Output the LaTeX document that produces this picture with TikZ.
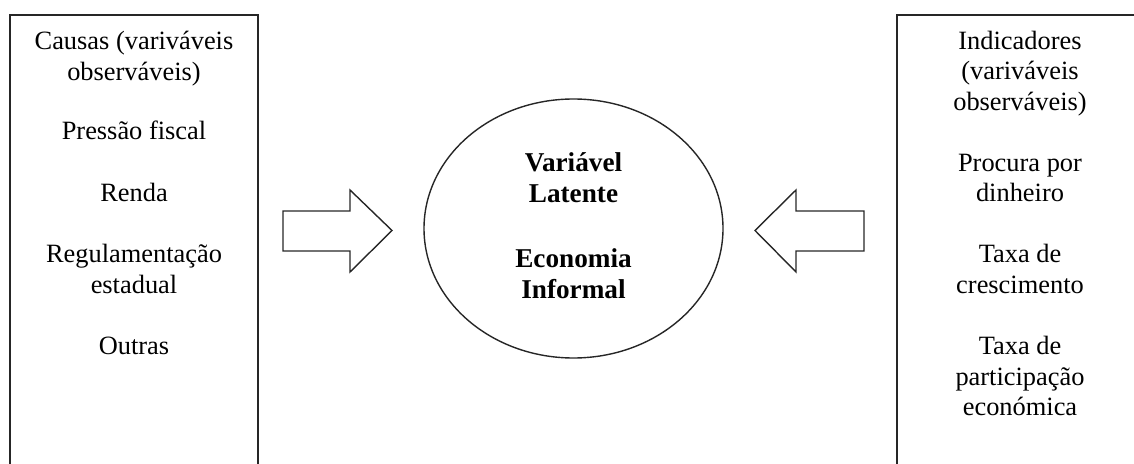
\documentclass[tikz,border=0pt]{standalone}
\usepackage{fontspec}
\setmainfont{Liberation Serif}
\usetikzlibrary{shapes.geometric}
\begin{document}
\begin{tikzpicture}[x=0.5pt,y=-0.5pt,
  txt/.style={anchor=base,inner sep=0pt,font=\fontsize{13.2}{15.3}\selectfont},
  btxt/.style={txt,font=\fontsize{13.6}{15.6}\selectfont\bfseries},
  boxline/.style={draw=black!85,line width=0.9pt},
  shapeline/.style={draw=black!85,line width=0.7pt}]
\useasboundingbox (0,0) rectangle (1134,464);
\clip (0,0) rectangle (1134,464);
% boxes
\draw[boxline] (10,15) rectangle (258,520);
\draw[boxline] (897,15) rectangle (1143,520);
% left texts
\node[txt] (l1) at (134,49.5) {Causas (variváveis};
\node[txt] (l2) at (134,80.5) {observáveis)};
\node[txt] (l3) at (134,140) {Pressão fiscal};
\node[txt] (l4) at (134,202) {Renda};
\node[txt] (l5) at (134,263) {Regulamentação};
\node[txt] (l6) at (134,293.5) {estadual};
\node[txt] (l7) at (134,355) {Outras};
% right texts
\node[txt] (r1) at (1020,49.5) {Indicadores};
\node[txt] (r2) at (1020,80) {(variváveis};
\node[txt] (r3) at (1020,110.5) {observáveis)};
\node[txt] (r4) at (1020,171.5) {Procura por};
\node[txt] (r5) at (1020,202) {dinheiro};
\node[txt] (r6) at (1020,263) {Taxa de};
\node[txt] (r7) at (1020,293.5) {crescimento};
\node[txt] (r8) at (1020,355) {Taxa de};
\node[txt] (r9) at (1020,385.5) {participação};
\node[txt] (r10) at (1020,415.5) {económica};
% ellipse
\node[ellipse,shapeline,minimum width=149.5pt,minimum height=129.5pt,inner sep=0pt] (lat) at (573.5,228.5) {};
\node[btxt] (e1) at (573.5,171.5) {Variável};
\node[btxt] (e2) at (573.5,202.5) {Latente};
\node[btxt] (e3) at (573.5,267.5) {Economia};
\node[btxt] (e4) at (573.5,298.5) {Informal};
% block arrows
\draw[shapeline] (283,211) -- (350,211) -- (350,190) -- (392,230.5) -- (350,272) -- (350,251) -- (283,251) -- cycle;
\draw[shapeline] (864,211) -- (796,211) -- (796,190) -- (755,230.5) -- (796,272) -- (796,251) -- (864,251) -- cycle;
\end{tikzpicture}
\end{document}
